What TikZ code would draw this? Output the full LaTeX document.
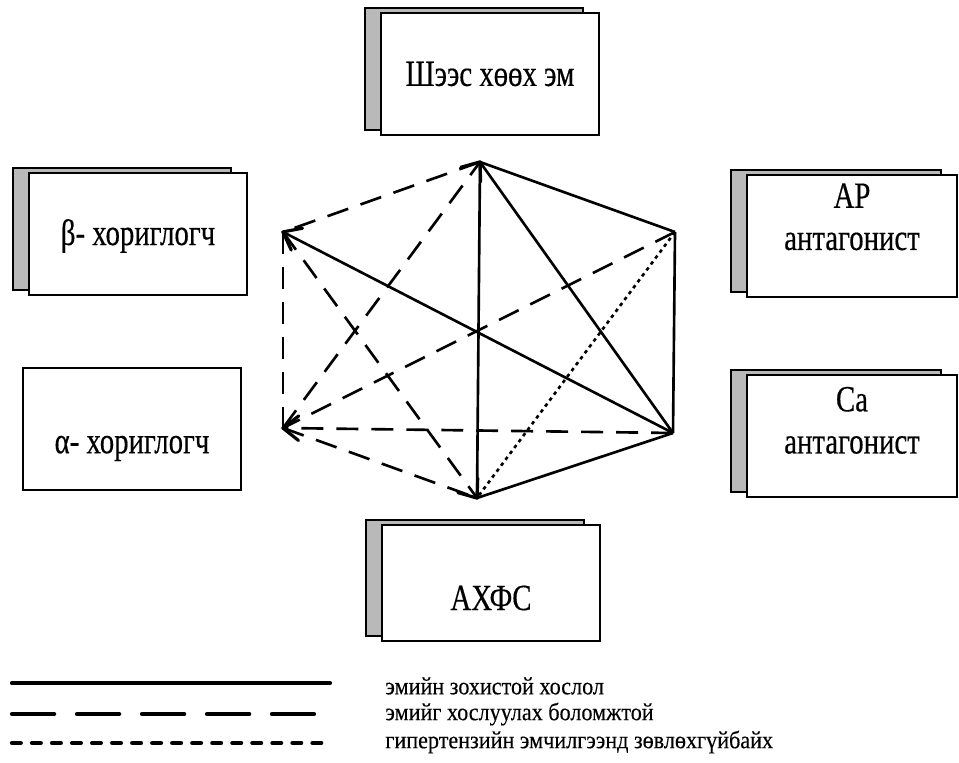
\documentclass[tikz,border=0pt]{standalone}
\usepackage{fontspec}
\setmainfont{Liberation Serif}
\newfontfamily\boxfont{Liberation Serif}[FakeStretch=0.78, FakeBold=0.4]
\newfontfamily\keyfont{Liberation Serif}[FakeStretch=0.9, FakeBold=0.3]
\usetikzlibrary{shadows,arrows.meta}
\tikzstyle{drug} = [draw, rectangle, fill=white, line width=1.4pt, minimum width=4.36cm, minimum height=2.44cm, inner ysep=2pt, align=center, font=\boxfont\fontsize{21}{24}\selectfont]
\tikzstyle{shade} = [general shadow={shadow xshift=-0.32cm, shadow yshift=0.1cm, fill=gray!55, draw=black, line width=1.1pt}]
\tikzstyle{good} = [draw, line width=1.5pt]
\tikzstyle{maybe} = [draw, line width=1.5pt, dash pattern=on 12.5pt off 7.4pt]
\tikzstyle{notrec} = [draw, line width=1.5pt, dash pattern=on 2pt off 2.2pt]
\tikzstyle{tip} = [-{Straight Barb[length=9pt,width=14pt,line width=1.8pt,round]}, shorten >=-1pt]
\tikzstyle{key} = [anchor=west, inner sep=0pt, font=\keyfont\fontsize{14}{16}\selectfont]

\begin{document}
\begin{tikzpicture}[x=0.02cm, y=-0.02cm]
    \useasboundingbox (0,0) rectangle (959,763);

    % Place nodes
    \node [drug, shade] (diuretic) at (490,74) {Шээс хөөх эм};
    \node [drug, shade, text height=17pt] (beta) at (138,234) {β- хориглогч};
    \node [drug, text height=32pt] (alpha) at (132,429) {α- хориглогч};
    \node [drug, shade, minimum width=4.2cm, text depth=22pt] (arb) at (852,236) {АР\\антагонист};
    \node [drug, shade, minimum width=4.2cm, text depth=18pt] (cca) at (852,436) {Ca\\антагонист};
    \node [drug, shade, minimum height=2.32cm, text height=31pt] (acei) at (491,583) {АХФС};

    % Corners of the hexagon
    \coordinate (t) at (480,162);
    \coordinate (ul) at (283,232);
    \coordinate (ur) at (675,232);
    \coordinate (ll) at (283,428);
    \coordinate (lr) at (673,433);
    \coordinate (b) at (477,498);

    % Draw edges
    \path [good] (t) -- (ur);
    \path [good] (t) -- (b);
    \path [good] (t) -- (lr);
    \path [good] (ur) -- (lr);
    \path [good] (lr) -- (b);
    \path [good, tip] (lr) -- (ul);
    \path [maybe] (t) -- (ul);
    \path [maybe, tip] (ll) -- (t);
    \path [maybe] (ul) -- (ll);
    \path [maybe, tip] (ul) -- (b);
    \path [maybe] (ur) -- (ll);
    \path [maybe, tip] (lr) -- (ll);
    \path [maybe] (ll) -- (b);
    \path [notrec] (ur) -- (b);

    % Legend
    \coordinate (k1a) at (12,683);
    \coordinate (k1b) at (330,683);
    \coordinate (k2a) at (12,714);
    \coordinate (k2b) at (314,714);
    \coordinate (k3a) at (12,743);
    \coordinate (k3b) at (325,743);
    \path [draw, line width=2.4pt, line cap=round] (k1a) -- (k1b);
    \path [draw, line width=2.4pt, line cap=round, dash pattern=on 24pt off 13pt] (k2a) -- (k2b);
    \path [draw, line width=2.4pt, line cap=round, dash pattern=on 5pt off 6.4pt] (k3a) -- (k3b);
    \node [key] (k1) at (385,686) {эмийн зохистой хослол};
    \node [key] (k2) at (385,714) {эмийг хослуулах боломжтой};
    \node [key] (k3) at (385,742) {гипертензийн эмчилгээнд зөвлөхгүйбайх};
\end{tikzpicture}
\end{document}
